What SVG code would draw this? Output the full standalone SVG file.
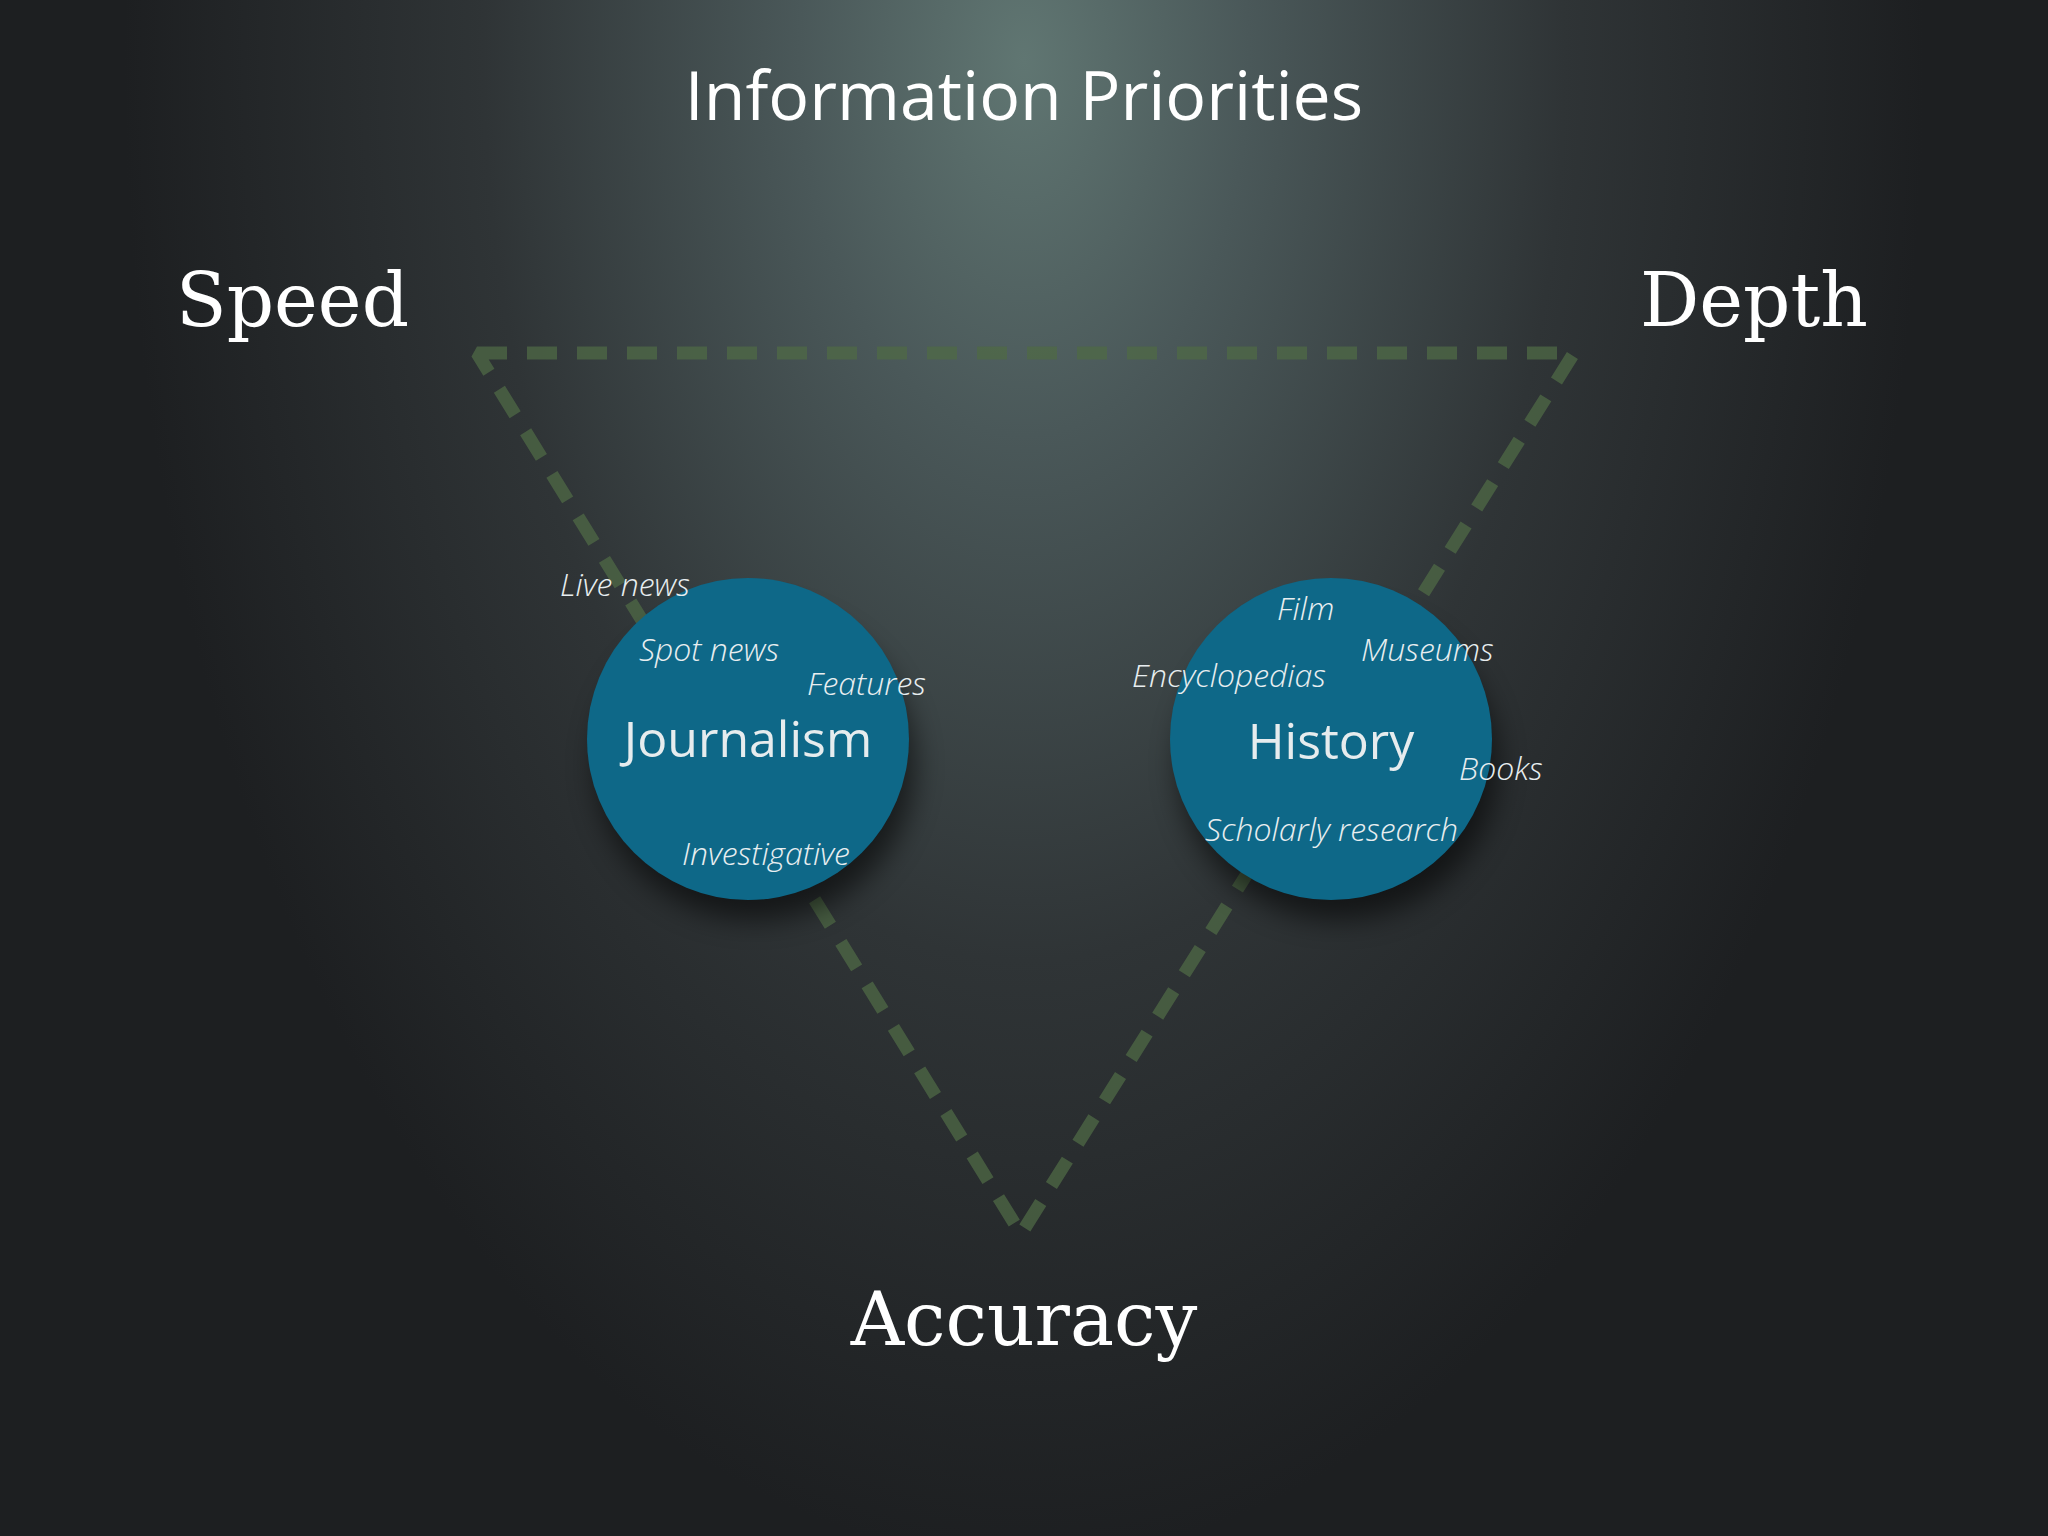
<svg xmlns="http://www.w3.org/2000/svg" width="2048" height="1536" viewBox="0 0 2048 1536">
<defs>
<radialGradient id="bg" cx="1024" cy="60" r="1500" gradientUnits="userSpaceOnUse" gradientTransform="translate(1024 60) scale(0.6 1) translate(-1024 -60)">
<stop offset="0" stop-color="#607672"/>
<stop offset="0.25" stop-color="#4a5859"/>
<stop offset="0.6" stop-color="#2f3436"/>
<stop offset="1" stop-color="#1d1f21"/>
</radialGradient>
<filter id="sh" x="-50%" y="-50%" width="200%" height="200%"><feGaussianBlur stdDeviation="14"/></filter>
<style>
.lab{fill:#fff;font-family:"DejaVu Serif","Liberation Serif",serif;font-size:74px}
.it{fill:#e8eef0;font-family:"Open Sans","Liberation Sans",sans-serif;font-style:italic;font-weight:300;font-size:32px}
.big{fill:#e6ecee;font-family:"Open Sans","Liberation Sans",sans-serif;font-size:50px;text-anchor:middle}
.node{fill:#0e6888}
</style>
</defs>
<rect width="2048" height="1536" fill="url(#bg)"/>
<text x="1024" y="120" fill="#fff" font-family="'Open Sans','Liberation Sans',sans-serif" font-size="68" text-anchor="middle">Information Priorities</text>
<text class="lab" x="176" y="326">Speed</text>
<text class="lab" x="1640" y="326">Depth</text>
<text class="lab" x="1024" y="1345" text-anchor="middle">Accuracy</text>
<g id="connectors">
<polygon points="477,353 1574,353 1021,1234" fill="none" stroke="#4f6a45" stroke-opacity="0.75" stroke-width="13" stroke-dasharray="30,20" stroke-linejoin="bevel"/>
</g>
<g id="journalism">
<ellipse cx="755" cy="765" rx="160" ry="155" fill="#000" opacity="0.55" filter="url(#sh)"/>
<circle class="node" cx="748" cy="739" r="161"/>
<text class="it" x="560" y="596">Live news</text>
<text class="it" x="639" y="661">Spot news</text>
<text class="it" x="807" y="695">Features</text>
<text class="big" x="748" y="757">Journalism</text>
<text class="it" x="682" y="865">Investigative</text>
</g>
<g id="history">
<ellipse cx="1338" cy="765" rx="160" ry="155" fill="#000" opacity="0.55" filter="url(#sh)"/>
<circle class="node" cx="1331" cy="739" r="161"/>
<text class="it" x="1277" y="620">Film</text>
<text class="it" x="1361" y="661">Museums</text>
<text class="it" x="1132" y="687">Encyclopedias</text>
<text class="big" x="1331" y="759">History</text>
<text class="it" x="1459" y="780">Books</text>
<text class="it" x="1205" y="841">Scholarly research</text>
</g>
</svg>
